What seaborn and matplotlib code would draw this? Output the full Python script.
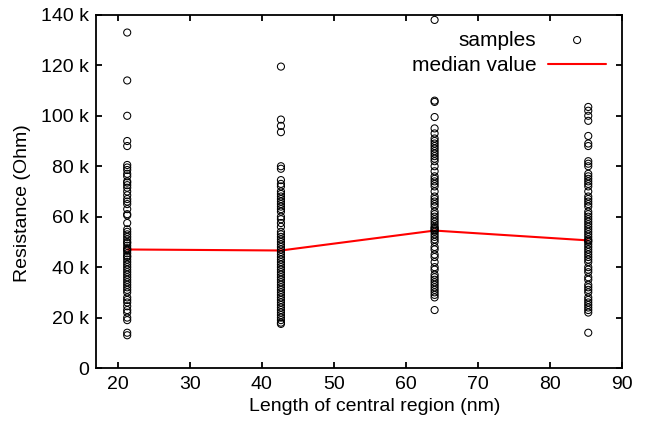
#!/usr/bin/env python3
import numpy as np
import pandas as pd
import matplotlib
matplotlib.use("Agg")
import matplotlib.pyplot as plt
import seaborn as sns
from matplotlib.ticker import FuncFormatter

# central region lengths (nm)
lengths = [21.33, 42.67, 64.0, 85.33]

# resistance samples per length (kOhm)
res_21 = [133, 114, 100, 90, 88, 80.5, 79.5, 78.5, 77, 76, 74, 73.5, 72.5, 71.5,
          70, 68.5, 67, 66, 65, 63, 61, 60.5, 57.5, 55, 54, 53, 52, 51, 50,
          49.5, 48.5, 47.5, 47, 46.5, 45.5, 44.5, 44, 43, 42, 41, 40, 39, 38,
          37, 36, 35, 34, 33, 32, 31, 30, 28, 27, 26, 24.5, 23, 22, 20, 19,
          14, 13]
res_43 = [119.5, 98.5, 96, 93.5, 80, 79, 74.5, 73, 72, 70, 69, 68, 67, 66, 65,
          64, 63, 62, 60, 59, 57.5, 56, 54, 53, 52, 51, 50, 49, 48, 47, 46,
          45, 44, 43, 42, 41, 40, 39, 38, 37, 36, 35, 34, 33, 32, 31, 30, 29,
          28, 27, 26, 25, 24, 23, 22, 21, 20, 19, 18, 17.5]
res_64 = [138, 106, 105.5, 99.5, 95, 93, 91, 90, 89, 88, 87, 86, 85, 84, 83,
          82, 80, 78, 76, 75, 74, 73, 72, 70, 68, 67, 66, 65, 64, 62, 61, 60,
          59, 58, 57, 56, 55.5, 55, 54.5, 54, 53, 52, 51, 50, 48, 47, 45, 44,
          42, 40, 39, 37, 36, 35, 34, 33, 32, 31, 30, 29, 28, 23]
res_85 = [103.5, 102, 100, 98, 92, 89, 88, 82, 81, 80, 77, 76, 75, 74, 73, 72,
          70, 68, 67, 66, 65, 64, 62, 61, 60, 59, 58, 57, 56, 55, 54, 53, 52,
          51, 50.5, 50, 49, 48, 47, 46, 45, 44, 43, 42, 40, 39, 38, 36, 35,
          33, 32, 31, 30, 28, 27, 26, 25, 24, 23, 22, 14]

# median resistance per length (kOhm)
medians = [47.0, 46.6, 54.5, 50.6]

xticks = [20, 30, 40, 50, 60, 70, 80, 90]
yticks = [0, 20, 40, 60, 80, 100, 120, 140]

sns.set_style("ticks")
plt.rcParams["font.family"] = ["Liberation Sans", "DejaVu Sans"]
plt.rc("text", color="black")
plt.rc("axes", linewidth=1.3, labelsize=14, labelcolor="black", edgecolor="black")
plt.rc("xtick", labelsize=14, direction="in", top=True, color="black", labelcolor="black")
plt.rc("ytick", labelsize=14, direction="in", right=True, color="black", labelcolor="black")
plt.rc("xtick.major", size=4.5, width=1.3, pad=6)
plt.rc("ytick.major", size=4.5, width=1.3, pad=5)

samples = pd.DataFrame({
    "length": np.repeat(lengths, [len(res_21), len(res_43), len(res_64), len(res_85)]),
    "resistance": np.concatenate([res_21, res_43, res_64, res_85]),
})
med = pd.DataFrame({"length": lengths, "resistance": medians})

fig = plt.figure(figsize=(6.64, 4.25), dpi=100)
ax = fig.add_axes([0.1446, 0.134, 0.792, 0.831])

sns.scatterplot(data=samples, x="length", y="resistance", ax=ax,
                marker="o", s=26, facecolor="none", edgecolor="black",
                linewidth=0.75, label="samples", zorder=3)
sns.lineplot(data=med, x="length", y="resistance", ax=ax,
             color="#ff0000", linewidth=1.5, label="median value", zorder=2)

ax.set_xlim(17, 90)
ax.set_ylim(0, 140)
ax.set_xticks(xticks)
ax.set_yticks(yticks)
ax.yaxis.set_major_formatter(FuncFormatter(lambda v, p: "0" if v == 0 else f"{v:.0f} k"))
for s in ax.spines.values():
    s.set_visible(True)
    s.set_color("black")

ax.set_xlabel("Length of central region (nm)")
ax.set_ylabel("Resistance (Ohm)")
# gnuplot puts the axis labels a little off-centre
ax.xaxis.set_label_coords(0.53, -0.085)
ax.yaxis.set_label_coords(-0.124, 0.466)

ax.legend(loc="upper right", frameon=False, markerfirst=False, numpoints=1,
          handlelength=2.8, handletextpad=0.55, labelspacing=0.32,
          fontsize=15, borderaxespad=0.75, borderpad=0.0)

fig.savefig("out.png", dpi=100)
